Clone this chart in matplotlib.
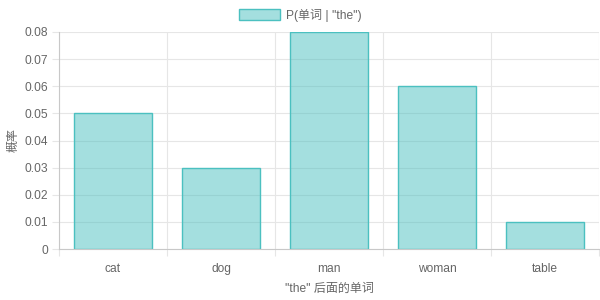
import matplotlib
matplotlib.use("Agg")
import matplotlib.pyplot as plt
import numpy as np

categories = ["cat", "dog", "man", "woman", "table"]
values = [0.05, 0.03, 0.08, 0.06, 0.01]
series_label = 'P(单词 | "the")'
x_title = '"the" 后面的单词'
y_title = "概率"
y_ticks = [0, 0.01, 0.02, 0.03, 0.04, 0.05, 0.06, 0.07, 0.08]
y_tick_labels = ["0", "0.01", "0.02", "0.03", "0.04", "0.05", "0.06", "0.07", "0.08"]

plt.rcParams['font.family'] = ['Liberation Sans', 'Noto Sans CJK SC', 'DejaVu Sans']
fs = 8.64
txt = "#666666"
grid_c = "#e6e6e6"
axis_c = "#c8c8c8"

fig = plt.figure(figsize=(6, 3), dpi=100)
ax = fig.add_axes([59/600, 1-249/300, 540/600, (249-32)/300])

x = np.arange(len(categories))
ax.bar(x, values, width=0.72, color=(75/255, 192/255, 192/255, 0.5),
       edgecolor=(75/255, 192/255, 192/255, 1.0), linewidth=1, label=series_label, zorder=1)

ax.set_xlim(-0.5, len(categories) - 0.5)
ax.set_ylim(0, 0.08)
ax.set_xticks(x)
ax.set_xticklabels(categories)
ax.set_xticks(np.arange(len(categories) + 1) - 0.5, minor=True)
ax.set_yticks(y_ticks)
ax.set_yticklabels(y_tick_labels)

ax.tick_params(axis='x', which='major', length=0, pad=10, labelsize=fs, labelcolor=txt)
ax.tick_params(axis='x', which='minor', length=5, width=0.8, color=grid_c)
ax.tick_params(axis='y', which='major', length=5, width=0.8, color=grid_c, pad=3, labelsize=fs, labelcolor=txt)

ax.grid(True, axis='y', which='major', color=grid_c, linewidth=0.8, zorder=0)
ax.grid(True, axis='x', which='minor', color=grid_c, linewidth=0.8, zorder=0)
ax.set_axisbelow(True)

for s in ["top", "right"]:
    ax.spines[s].set_visible(False)
for s in ["left", "bottom"]:
    ax.spines[s].set_color(axis_c)
    ax.spines[s].set_linewidth(0.8)

ax.set_xlabel(x_title, fontsize=fs, color=txt, labelpad=6)
ax.set_ylabel(y_title, fontsize=fs, color=txt, labelpad=3)

handles, labels = ax.get_legend_handles_labels()
leg = fig.legend(handles, labels, loc='upper center', bbox_to_anchor=(0.5, 1.0), frameon=False, fontsize=fs,
                 handlelength=3.4, handleheight=1.0, handletextpad=0.5, borderaxespad=0.3)
for t in leg.get_texts():
    t.set_color(txt)

fig.savefig("out.png", dpi=100)
